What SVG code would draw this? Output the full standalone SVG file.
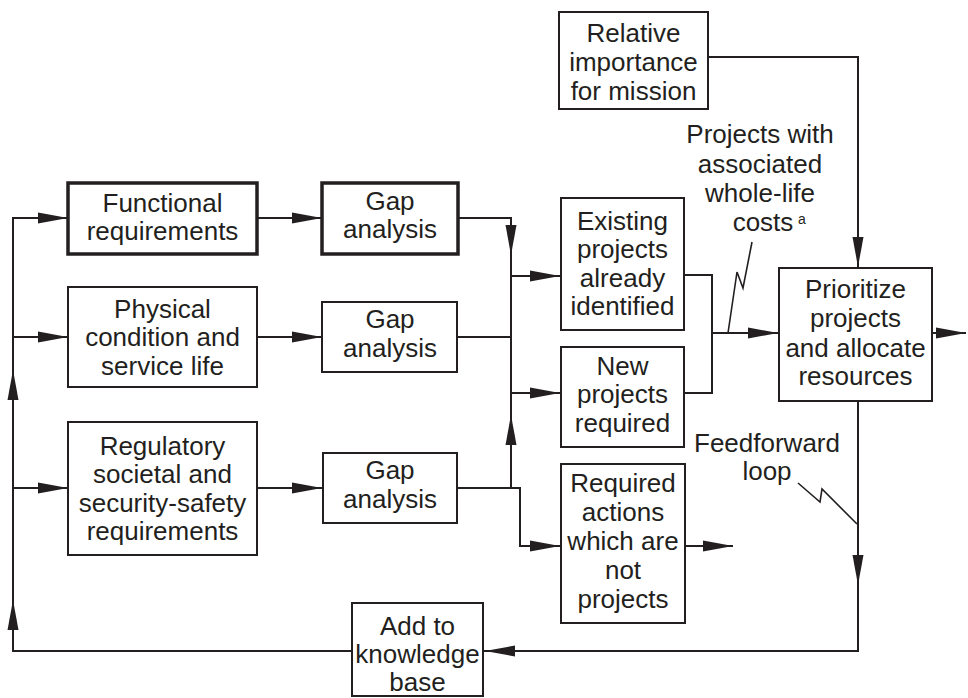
<svg xmlns="http://www.w3.org/2000/svg" width="968" height="698" viewBox="0 0 968 698">
<style>
.box{fill:#fff;stroke:#231f20;stroke-width:2}
.thick{stroke-width:3.5}
.t{font-family:"Liberation Sans",Arial,sans-serif;font-size:26px;fill:#231f20;text-anchor:middle}
.ln{fill:none;stroke:#231f20;stroke-width:2}
.ld{fill:none;stroke:#231f20;stroke-width:1.6}
.ah{fill:#231f20}
</style>
<defs>
<path id="ah" d="M0,0 L-30,-5.5 L-30,5.5 Z"/>
</defs>
<rect width="968" height="698" fill="#fff"/>
<g id="connectors">
<path class="ln" d="M68,218 H13 V651 H352"/>
<path class="ln" d="M13,337 H68 M13,488 H68"/>
<path class="ln" d="M257,218 H322 M257,337 H322 M257,488 H322"/>
<path class="ln" d="M458,218 H511 V488 M457,337 H511 M457,488 H520 V546 H561"/>
<path class="ln" d="M511,276 H561 M511,393 H561"/>
<path class="ln" d="M684,275 H712 V393 H684 M712,333 H779"/>
<path class="ln" d="M932,333 H966"/>
<path class="ln" d="M708,57 H858 V268"/>
<path class="ln" d="M858,401 V651 H483"/>
<path class="ln" d="M685,546 H733"/>
<path class="ld" d="M752,242 L743,288 L737,272 L728,333"/>
<path class="ld" d="M798,483 L820,502 L822,489 L857,524"/>
<g class="ah">
<use href="#ah" transform="translate(68,218)"/>
<use href="#ah" transform="translate(68,337)"/>
<use href="#ah" transform="translate(68,488)"/>
<use href="#ah" transform="translate(322,218)"/>
<use href="#ah" transform="translate(322,337)"/>
<use href="#ah" transform="translate(322,488)"/>
<use href="#ah" transform="translate(13,370) rotate(-90)"/>
<use href="#ah" transform="translate(13,600) rotate(-90)"/>
<use href="#ah" transform="translate(511,255) rotate(90)"/>
<use href="#ah" transform="translate(511,415) rotate(-90)"/>
<use href="#ah" transform="translate(560,276)"/>
<use href="#ah" transform="translate(560,393)"/>
<use href="#ah" transform="translate(560,546)"/>
<use href="#ah" transform="translate(733,546)"/>
<use href="#ah" transform="translate(778,333)"/>
<use href="#ah" transform="translate(858,267) rotate(90)"/>
<use href="#ah" transform="translate(966,333)"/>
<use href="#ah" transform="translate(858,585) rotate(90)"/>
<use href="#ah" transform="translate(485,651) rotate(180)"/>
</g>
</g>
<g id="functional">
<rect class="box thick" x="68" y="183" width="189" height="71"/>
<text class="t" x="162.5" y="212">Functional</text>
<text class="t" x="162.5" y="240">requirements</text>
</g>
<g id="physical">
<rect class="box" x="68" y="287" width="189" height="100"/>
<text class="t" x="162.5" y="318">Physical</text>
<text class="t" x="162.5" y="346">condition and</text>
<text class="t" x="162.5" y="375">service life</text>
</g>
<g id="regulatory">
<rect class="box" x="68" y="422" width="189" height="133"/>
<text class="t" x="162.5" y="455">Regulatory</text>
<text class="t" x="162.5" y="483">societal and</text>
<text class="t" x="162.5" y="512">security-safety</text>
<text class="t" x="162.5" y="540">requirements</text>
</g>
<g id="gap1">
<rect class="box thick" x="322" y="183" width="136" height="71"/>
<text class="t" x="390" y="210">Gap</text>
<text class="t" x="390" y="238">analysis</text>
</g>
<g id="gap2">
<rect class="box" x="322" y="302" width="135" height="70"/>
<text class="t" x="390" y="328">Gap</text>
<text class="t" x="390" y="357">analysis</text>
</g>
<g id="gap3">
<rect class="box" x="323" y="453" width="134" height="70"/>
<text class="t" x="390" y="479">Gap</text>
<text class="t" x="390" y="508">analysis</text>
</g>
<g id="existing">
<rect class="box" x="561" y="198" width="123" height="132"/>
<text class="t" x="622.5" y="230">Existing</text>
<text class="t" x="622.5" y="258">projects</text>
<text class="t" x="622.5" y="287">already</text>
<text class="t" x="622.5" y="315">identified</text>
</g>
<g id="new">
<rect class="box" x="561" y="347" width="123" height="100"/>
<text class="t" x="622.5" y="375">New</text>
<text class="t" x="622.5" y="403">projects</text>
<text class="t" x="622.5" y="432">required</text>
</g>
<g id="required">
<rect class="box" x="561" y="464" width="124" height="159"/>
<text class="t" x="623" y="492">Required</text>
<text class="t" x="623" y="521">actions</text>
<text class="t" x="623" y="550">which are</text>
<text class="t" x="623" y="579">not</text>
<text class="t" x="623" y="608">projects</text>
</g>
<g id="relative">
<rect class="box" x="559" y="12" width="149" height="97"/>
<text class="t" x="633.5" y="42">Relative</text>
<text class="t" x="633.5" y="71">importance</text>
<text class="t" x="633.5" y="100">for mission</text>
</g>
<g id="prioritize">
<rect class="box" x="779" y="268" width="153" height="133"/>
<text class="t" x="855.5" y="298">Prioritize</text>
<text class="t" x="855.5" y="327">projects</text>
<text class="t" x="855.5" y="357">and allocate</text>
<text class="t" x="855.5" y="385">resources</text>
</g>
<g id="knowledge">
<rect class="box" x="352" y="603" width="131" height="93"/>
<text class="t" x="417.5" y="635">Add to</text>
<text class="t" x="417.5" y="663">knowledge</text>
<text class="t" x="417.5" y="691">base</text>
</g>
<g id="label-projects">
<text class="t" x="760" y="143">Projects with</text>
<text class="t" x="760" y="173">associated</text>
<text class="t" x="760" y="202">whole-life</text>
<text class="t" x="763" y="231">costs</text>
<text class="t" x="802" y="224" style="font-size:14px">a</text>
</g>
<g id="label-feedforward">
<text class="t" x="767" y="452">Feedforward</text>
<text class="t" x="767" y="480">loop</text>
</g>
</svg>
